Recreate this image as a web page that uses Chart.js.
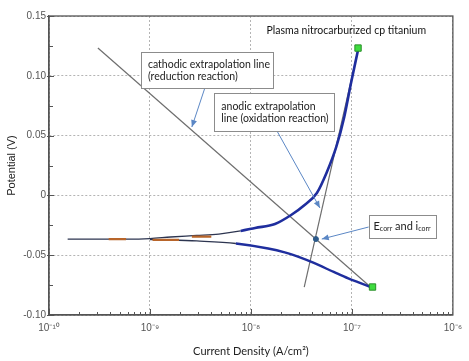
<!DOCTYPE html>
<html>
<head>
<meta charset="utf-8">
<script src="https://cdn.jsdelivr.net/npm/chart.js@4.4.1/dist/chart.umd.min.js"></script>
<style>
  html, body { margin: 0; padding: 0; background: #fff; }
</style>
</head>
<body>
<canvas id="tafel" width="469" height="361"></canvas>
<script>
// anodic branch of the polarisation scan (A/cm2, V)
const anodicI = [1.53e-10, 3.1e-10, 6.1e-10, 1.0e-9, 1.6e-9, 2.9e-9, 4.8e-9, 7.9e-9, 1.1e-8, 1.73e-8, 2.5e-8, 3.4e-8, 4.5e-8, 5.6e-8, 7.0e-8, 8.4e-8, 9.8e-8, 1.15e-7];
const anodicE = [-0.0365, -0.0365, -0.0366, -0.0361, -0.0348, -0.0335, -0.0323, -0.0297, -0.0272, -0.0239, -0.0164, -0.0080, 0.0020, 0.0187, 0.0405, 0.0656, 0.0940, 0.1216];

// cathodic branch
const cathodicI = [1.0e-9, 1.6e-9, 2.9e-9, 7.1e-9, 1.48e-8, 2.16e-8, 3.15e-8, 4.2e-8, 6.6e-8, 9.2e-8, 1.2e-7, 1.53e-7];
const cathodicE = [-0.0369, -0.0373, -0.0381, -0.0402, -0.0444, -0.0477, -0.0523, -0.0565, -0.0640, -0.0694, -0.0732, -0.0766];

// orange bits along the flat part of the scan
const orangeFrom = [3.9e-10, 1.06e-9, 2.6e-9];
const orangeTo = [5.8e-10, 1.94e-9, 4.05e-9];
const orangeE = [-0.0365, -0.0372, -0.0345];

// tafel extrapolation lines
const cathodicFitI = [3.05e-10, 1.53e-7];
const cathodicFitE = [0.1232, -0.0766];
const anodicFitI = [3.37e-8, 1.15e-7];
const anodicFitE = [-0.0766, 0.1216];

// end markers and the Ecorr / icorr point
const endI = [1.15e-7, 1.6e-7];
const endE = [0.1232, -0.0766];
const ecorrI = [4.4e-8];
const ecorrE = [-0.0365];

// axes
const xTickValues = [1e-10, 1e-9, 1e-8, 1e-7, 1e-6];
const xTickLabels = ['10⁻¹⁰', '10⁻⁹', '10⁻⁸', '10⁻⁷', '10⁻⁶'];
const yMin = -0.10, yMax = 0.15, yStep = 0.05;

const chartTitle = 'Plasma nitrocarburized cp titanium';
const titleAt = [8.79e-8, 0.1375];

// callout boxes: corners and arrow ends in data units
const notes = [
  { lines: ['cathodic extrapolation line', '(reduction reaction)'],
    box: [8.13e-10, 1.65e-8, 0.1199, 0.0898], arrow: [3.47e-9, 0.0890, 2.6e-9, 0.0572] },
  { lines: ['anodic extrapolation', 'line (oxidation reaction)'],
    box: [4.34e-9, 6.73e-8, 0.0856, 0.0539], arrow: [1.81e-8, 0.0539, 4.82e-8, -0.0105] },
  { lines: null,
    box: [1.47e-7, 6.7e-7, -0.0164, -0.0356], arrow: [1.47e-7, -0.0264, 5.03e-8, -0.0365] }
];

const pts = (xs, ys) => xs.map((x, i) => ({ x: x, y: ys[i] }));

const orangePts = [];
orangeFrom.forEach((f, i) => {
  orangePts.push({ x: f, y: orangeE[i] }, { x: orangeTo[i], y: orangeE[i] }, { x: orangeTo[i], y: null });
});

const NOTE_FONT = '10.5px Lato, "Open Sans", sans-serif';

function arrow(ctx, x1, y1, x2, y2) {
  const a = Math.atan2(y2 - y1, x2 - x1);
  ctx.beginPath();
  ctx.moveTo(x1, y1);
  ctx.lineTo(x2, y2);
  ctx.stroke();
  ctx.beginPath();
  ctx.moveTo(x2, y2);
  ctx.lineTo(x2 - 7 * Math.cos(a) + 3 * Math.sin(a), y2 - 7 * Math.sin(a) - 3 * Math.cos(a));
  ctx.lineTo(x2 - 7 * Math.cos(a) - 3 * Math.sin(a), y2 - 7 * Math.sin(a) + 3 * Math.cos(a));
  ctx.closePath();
  ctx.fill();
}

const extras = {
  id: 'extras',
  afterDatasetsDraw(chart) {
    const ctx = chart.ctx, xs = chart.scales.x, ys = chart.scales.y;
    ctx.save();
    notes.forEach(n => {
      const bx1 = xs.getPixelForValue(n.box[0]), bx2 = xs.getPixelForValue(n.box[1]);
      const by1 = ys.getPixelForValue(n.box[2]), by2 = ys.getPixelForValue(n.box[3]);
      ctx.strokeStyle = '#5b87c5';
      ctx.fillStyle = '#5b87c5';
      ctx.lineWidth = 1;
      arrow(ctx, xs.getPixelForValue(n.arrow[0]), ys.getPixelForValue(n.arrow[1]),
        xs.getPixelForValue(n.arrow[2]), ys.getPixelForValue(n.arrow[3]));
      ctx.fillStyle = '#fff';
      ctx.fillRect(bx1, by1, bx2 - bx1, by2 - by1);
      ctx.strokeStyle = '#8c8c8c';
      ctx.strokeRect(Math.round(bx1) + 0.5, Math.round(by1) + 0.5, Math.round(bx2 - bx1), Math.round(by2 - by1));
      ctx.fillStyle = '#222';
      ctx.textBaseline = 'middle';
      if (n.lines) {
        ctx.font = NOTE_FONT;
        ctx.textAlign = 'left';
        const h = (by2 - by1) / (n.lines.length + 1);
        n.lines.forEach((t, i) => ctx.fillText(t, bx1 + 7, by1 + h * (i + 1) + 0.5));
      } else {
        // E_corr and i_corr with subscripts
        const parts = [['E', 0], ['corr', 1], [' and i', 0], ['corr', 1]];
        const big = '11px Lato, "Open Sans", sans-serif', small = '7px Lato, "Open Sans", sans-serif';
        let w = 0;
        parts.forEach(p => { ctx.font = p[1] ? small : big; w += ctx.measureText(p[0]).width; });
        let x = (bx1 + bx2) / 2 - w / 2;
        const cy = (by1 + by2) / 2;
        ctx.textAlign = 'left';
        parts.forEach(p => {
          ctx.font = p[1] ? small : big;
          ctx.fillText(p[0], x, cy + (p[1] ? 2.5 : 0));
          x += ctx.measureText(p[0]).width;
        });
      }
    });
    ctx.font = NOTE_FONT;
    ctx.fillStyle = '#111';
    ctx.textAlign = 'center';
    ctx.textBaseline = 'middle';
    ctx.fillText(chartTitle, xs.getPixelForValue(titleAt[0]), ys.getPixelForValue(titleAt[1]));
    ctx.restore();
  },
  afterDraw(chart) {
    const ctx = chart.ctx, a = chart.chartArea, xs = chart.scales.x, ys = chart.scales.y;
    ctx.save();
    ctx.strokeStyle = '#555';
    ctx.lineWidth = 1.3;
    ctx.strokeRect(a.left, a.top, a.right - a.left, a.bottom - a.top);
    ctx.lineWidth = 1;
    ctx.beginPath();
    for (let k = 0; k * yStep / 2 <= yMax - yMin + 1e-9; k++) {
      const y = Math.round(ys.getPixelForValue(yMin + k * yStep / 2)) + 0.5;
      if (k % 2 === 0) { ctx.moveTo(a.left - 2, y); ctx.lineTo(a.left + 5, y); }
      else { ctx.moveTo(a.left, y); ctx.lineTo(a.left + 4, y); }
    }
    for (let d = -10; d < -6; d++) {
      for (let m = 1; m <= 9; m++) {
        const x = Math.round(xs.getPixelForValue(m * Math.pow(10, d))) + 0.5;
        ctx.moveTo(x, a.bottom);
        ctx.lineTo(x, a.bottom - (m === 1 ? 6 : 3));
      }
    }
    ctx.stroke();
    ctx.restore();
  }
};

const thin = 5e-9;

new Chart(document.getElementById('tafel'), {
  type: 'scatter',
  data: {
    datasets: [
      { data: pts(endI, endE), pointStyle: 'rect', pointRadius: 4.5, backgroundColor: '#3fdc3f', borderColor: '#2b8f2b', borderWidth: 1, order: 0 },
      { data: pts(ecorrI, ecorrE), pointRadius: 2.5, backgroundColor: '#2c5a8a', borderColor: '#2c5a8a', order: 1 },
      { data: orangePts, showLine: true, pointRadius: 0, borderColor: '#b8652a', borderWidth: 2.2, spanGaps: false, order: 2 },
      { data: pts(anodicI, anodicE), showLine: true, pointRadius: 0, borderColor: '#1f2e9e', borderWidth: 2.6, cubicInterpolationMode: 'monotone', order: 3,
        segment: { borderWidth: c => c.p0.parsed.x < thin ? 1.3 : 2.6, borderColor: c => c.p0.parsed.x < thin ? '#2d3550' : '#1f2e9e' } },
      { data: pts(cathodicI, cathodicE), showLine: true, pointRadius: 0, borderColor: '#1f2e9e', borderWidth: 2.4, cubicInterpolationMode: 'monotone', order: 3,
        segment: { borderWidth: c => c.p0.parsed.x < thin ? 1.3 : 2.4, borderColor: c => c.p0.parsed.x < thin ? '#2d3550' : '#1f2e9e' } },
      { data: pts(cathodicFitI, cathodicFitE), showLine: true, pointRadius: 0, borderColor: '#6e6e6e', borderWidth: 1.2, order: 5 },
      { data: pts(anodicFitI, anodicFitE), showLine: true, pointRadius: 0, borderColor: '#6e6e6e', borderWidth: 1.2, order: 5 }
    ]
  },
  options: {
    responsive: false,
    animation: false,
    devicePixelRatio: 1,
    layout: { padding: { top: 16, right: 7, left: 0, bottom: 0 } },
    plugins: { legend: { display: false }, tooltip: { enabled: false } },
    scales: {
      x: {
        type: 'logarithmic',
        min: 1e-10,
        max: 1e-6,
        afterBuildTicks: s => { s.ticks = xTickValues.map(v => ({ value: v })); },
        afterFit: s => { s.height = 46; },
        ticks: {
          autoSkip: false, maxRotation: 0, padding: 7, color: '#555',
          font: { family: '"Liberation Sans", Arial, sans-serif', size: 10 },
          callback: v => xTickLabels[xTickValues.findIndex(t => Math.abs(Math.log10(t) - Math.log10(v)) < 1e-6)]
        },
        grid: { color: '#b4b4b4', lineWidth: 1, drawTicks: false },
        border: { color: '#555', width: 1.3, dash: [2, 2] },
        title: { display: true, text: 'Current Density (A/cm²)', color: '#222',
          font: { family: 'Lato, "Open Sans", sans-serif', size: 11 }, padding: { top: 0, bottom: 3 } }
      },
      y: {
        min: yMin,
        max: yMax,
        afterFit: s => { s.width = 49; },
        ticks: {
          stepSize: yStep, padding: 3, color: '#555',
          font: { family: '"Liberation Sans", Arial, sans-serif', size: 10 },
          callback: v => Math.abs(v) < 1e-9 ? '0' : v.toFixed(2)
        },
        grid: { color: '#b4b4b4', lineWidth: 1, drawTicks: false },
        border: { color: '#555', width: 1.3, dash: [2, 2] },
        title: { display: true, text: 'Potential (V)', color: '#222',
          font: { family: '"Liberation Sans", Arial, sans-serif', size: 11 }, padding: { top: 5, bottom: 0 } }
      }
    }
  },
  plugins: [extras]
});
</script>
</body>
</html>
